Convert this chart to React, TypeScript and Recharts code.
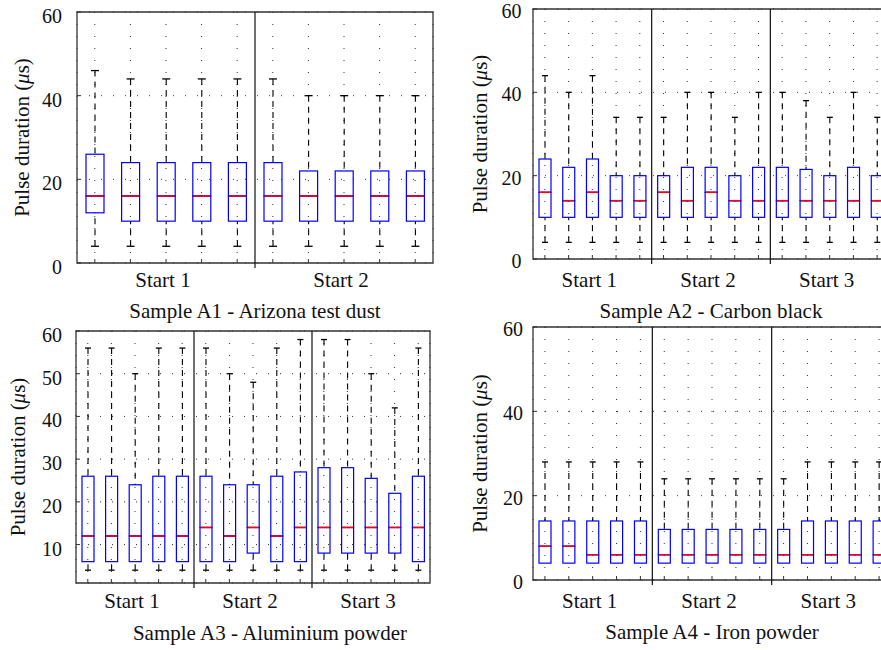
import React from 'react';
import { ComposedChart, Bar, XAxis, YAxis, CartesianGrid, ReferenceLine, ReferenceArea } from 'recharts';

const FONT = '"Liberation Serif", "Times New Roman", serif';
const GROUP = 5;
const PAD = 12;

// ---------- Sample A1 - Arizona test dust ----------
const a1Groups = ['Start 1', 'Start 2'];
const a1Max = [46, 44, 44, 44, 44, 44, 40, 40, 40, 40];
const a1Q3 = [26, 24, 24, 24, 24, 24, 22, 22, 22, 22];
const a1Med = [16, 16, 16, 16, 16, 16, 16, 16, 16, 16];
const a1Q1 = [12, 10, 10, 10, 10, 10, 10, 10, 10, 10];
const a1Min = [4, 4, 4, 4, 4, 4, 4, 4, 4, 4];

// ---------- Sample A2 - Carbon black ----------
const a2Groups = ['Start 1', 'Start 2', 'Start 3'];
const a2Max = [44, 40, 44, 34, 34, 34, 40, 40, 34, 40, 40, 38, 34, 40, 34];
const a2Q3 = [24, 22, 24, 20, 20, 20, 22, 22, 20, 22, 22, 21.5, 20, 22, 20];
const a2Med = [16, 14, 16, 14, 14, 16, 14, 16, 14, 14, 14, 14, 14, 14, 14];
const a2Q1 = [10, 10, 10, 10, 10, 10, 10, 10, 10, 10, 10, 10, 10, 10, 10];
const a2Min = [4, 4, 4, 4, 4, 4, 4, 4, 4, 4, 4, 4, 4, 4, 4];

// ---------- Sample A3 - Aluminium powder ----------
const a3Groups = ['Start 1', 'Start 2', 'Start 3'];
const a3Max = [56, 56, 50, 56, 56, 56, 50, 48, 56, 58, 58, 58, 50, 42, 56];
const a3Q3 = [26, 26, 24, 26, 26, 26, 24, 24, 26, 27, 28, 28, 25.5, 22, 26];
const a3Med = [12, 12, 12, 12, 12, 14, 12, 14, 12, 14, 14, 14, 14, 14, 14];
const a3Q1 = [6, 6, 6, 6, 6, 6, 6, 8, 6, 6, 8, 8, 8, 8, 6];
const a3Min = [4, 4, 4, 4, 4, 4, 4, 4, 4, 4, 4, 4, 4, 4, 4];

// ---------- Sample A4 - Iron powder ----------
const a4Groups = ['Start 1', 'Start 2', 'Start 3'];
const a4Max = [28, 28, 28, 28, 28, 24, 24, 24, 24, 24, 24, 28, 28, 28, 28];
const a4Q3 = [14, 14, 14, 14, 14, 12, 12, 12, 12, 12, 12, 14, 14, 14, 14];
const a4Med = [8, 8, 6, 6, 6, 6, 6, 6, 6, 6, 6, 6, 6, 6, 6];
const a4Q1 = [4, 4, 4, 4, 4, 4, 4, 4, 4, 4, 4, 4, 4, 4, 4];
const a4Min = [4, 4, 4, 4, 4, 4, 4, 4, 4, 4, 4, 4, 4, 4, 4];

const ticks0to60 = [0, 20, 40, 60];
const ticks10to60 = [10, 20, 30, 40, 50, 60];

function buildRows(min: number[], q1: number[], med: number[], q3: number[], max: number[]) {
  return min.map((m, i) => ({
    pos: i + 1,
    base: m,
    lw: q1[i] - m,
    lo: med[i] - q1[i],
    hi: q3[i] - med[i],
    uw: max[i] - q3[i],
  }));
}

const norm = (p: any) => {
  const y = Number(p.y) || 0;
  const h = Number(p.height) || 0;
  return { x: Number(p.x) || 0, w: Number(p.width) || 0, top: Math.min(y, y + h), h: Math.abs(h) };
};

const Empty = () => <g />;

const LowerWhisker = (p: any) => {
  const { x, w, top, h } = norm(p);
  if (h < 0.5) return <g />;
  const cx = x + w / 2;
  const c = p.cap / 2;
  return (
    <g>
      <line x1={cx} x2={cx} y1={top + h} y2={top} stroke="#000" strokeWidth={1.1} strokeDasharray="6 5" />
      <line x1={cx - c} x2={cx + c} y1={top + h} y2={top + h} stroke="#000" strokeWidth={1.3} />
    </g>
  );
};

const UpperWhisker = (p: any) => {
  const { x, w, top, h } = norm(p);
  if (h < 0.5) return <g />;
  const cx = x + w / 2;
  const c = p.cap / 2;
  return (
    <g>
      <line x1={cx} x2={cx} y1={top} y2={top + h} stroke="#000" strokeWidth={1.1} strokeDasharray="6 5" />
      <line x1={cx - c} x2={cx + c} y1={top} y2={top} stroke="#000" strokeWidth={1.3} />
    </g>
  );
};

const BoxLower = (p: any) => {
  const { x, w, top, h } = norm(p);
  return <rect x={x} y={top} width={w} height={h} fill="none" stroke="#0000ff" strokeWidth={1.2} />;
};

const BoxUpper = (p: any) => {
  const { x, w, top, h } = norm(p);
  return (
    <g>
      <rect x={x} y={top} width={w} height={h} fill="none" stroke="#0000ff" strokeWidth={1.2} />
      <line x1={x + 0.6} x2={x + w - 0.6} y1={top + h} y2={top + h} stroke="#ff0000" strokeWidth={1.5} />
    </g>
  );
};

type Cfg = {
  left: number; top: number; width: number; height: number;
  mTop: number; mRight: number; yAxisW: number; xAxisH: number;
  yMin: number; yMax: number; yTicks: number[];
  boxW: number; cap: number;
  yTickGap: number; yTickDy: number; xLabelDy: number;
  titleDy: number; titleShift: number; yTitleX: number;
  title: string; groups: string[]; rows: any[];
};

const tickText = { fontSize: 20, fill: '#111', style: { fontFamily: FONT } };
const labelText = { fontSize: 21, fill: '#111', style: { fontFamily: FONT } };

function Panel({ c }: { c: Cfg }) {
  const n = c.rows.length;
  const positions = c.rows.map((r) => r.pos);
  const width = c.width;
  const height = c.height + 2 * PAD;
  const mTop = c.mTop + PAD;
  const xAxisH = c.xAxisH + PAD;
  const plotLeft = c.yAxisW;
  const plotRight = width - c.mRight;
  const plotTop = mTop;
  const plotBottom = height - xAxisH;
  const pxPerUnit = (plotBottom - plotTop) / (c.yMax - c.yMin);
  const seps = c.groups.slice(1).map((_, i) => (i + 1) * GROUP + 0.5);
  const labelAt = new Map<number, string>(c.groups.map((g, i) => [i * GROUP + (GROUP + 1) / 2, g]));
  const domainX = [0.5, n + 0.5];

  const bottomTick = (p: any) => {
    const lbl = labelAt.get(p.payload.value);
    return (
      <g>
        <line x1={p.x} x2={p.x} y1={p.y} y2={p.y - 4} stroke="#333" />
        {lbl ? (
          <text x={p.x - 3} y={p.y + c.xLabelDy} textAnchor="middle" {...labelText}>
            {lbl}
          </text>
        ) : null}
      </g>
    );
  };
  const topTick = (p: any) => <line x1={p.x} x2={p.x} y1={p.y} y2={p.y + 4} stroke="#333" />;
  const leftTick = (p: any) => (
    <g>
      <line x1={p.x} x2={p.x + 4} y1={p.y} y2={p.y} stroke="#333" />
      <text x={p.x - c.yTickGap} y={p.y + c.yTickDy} textAnchor="end" dominantBaseline="central" {...tickText}>
        {p.payload.value}
      </text>
    </g>
  );
  const rightTick = (p: any) => <line x1={p.x} x2={p.x - 4} y1={p.y} y2={p.y} stroke="#333" />;

  const xTitle = () => (
    <text x={(plotLeft + plotRight) / 2 + c.titleShift} y={plotBottom + c.titleDy} textAnchor="middle" {...labelText}>
      {c.title}
    </text>
  );
  const yTitle = () => {
    const cy = (plotTop + plotBottom) / 2;
    return (
      <text
        x={c.yTitleX}
        y={cy}
        transform={`rotate(-90 ${c.yTitleX} ${cy})`}
        textAnchor="middle"
        dominantBaseline="central"
        {...labelText}
      >
        Pulse duration (<tspan fontStyle="italic">μ</tspan>s)
      </text>
    );
  };

  return (
    <div style={{ position: 'absolute', left: c.left, top: c.top - PAD }}>
      <ComposedChart
        width={width}
        height={height}
        data={c.rows}
        margin={{ top: mTop, right: c.mRight, bottom: 0, left: 0 }}
      >
        <CartesianGrid stroke="#333" strokeDasharray="1 11" />
        <XAxis
          dataKey="pos"
          type="number"
          domain={domainX}
          ticks={positions}
          interval={0}
          tickSize={0}
          tickMargin={0}
          tickLine={false}
          axisLine={false}
          height={xAxisH}
          tick={bottomTick}
          label={xTitle}
        />
        <XAxis
          xAxisId="top"
          orientation="top"
          dataKey="pos"
          type="number"
          domain={domainX}
          ticks={positions}
          interval={0}
          tickSize={0}
          tickMargin={0}
          tickLine={false}
          axisLine={false}
          height={0}
          tick={topTick}
        />
        <YAxis
          type="number"
          domain={[c.yMin, c.yMax]}
          allowDataOverflow
          ticks={c.yTicks}
          interval={0}
          tickSize={0}
          tickMargin={0}
          tickLine={false}
          axisLine={false}
          width={c.yAxisW}
          tick={leftTick}
          label={yTitle}
        />
        <YAxis
          yAxisId="r"
          orientation="right"
          type="number"
          domain={[c.yMin, c.yMax]}
          allowDataOverflow
          ticks={c.yTicks}
          interval={0}
          tickSize={0}
          tickMargin={0}
          tickLine={false}
          axisLine={false}
          width={0}
          tick={rightTick}
        />
        <Bar dataKey="base" stackId="s" barSize={c.boxW} isAnimationActive={false} shape={Empty} />
        <Bar dataKey="lw" stackId="s" barSize={c.boxW} isAnimationActive={false} shape={(p: any) => <LowerWhisker {...p} cap={c.cap} />} />
        <Bar dataKey="lo" stackId="s" barSize={c.boxW} isAnimationActive={false} shape={BoxLower} />
        <Bar dataKey="hi" stackId="s" barSize={c.boxW} isAnimationActive={false} shape={BoxUpper} />
        <Bar dataKey="uw" stackId="s" barSize={c.boxW} isAnimationActive={false} shape={(p: any) => <UpperWhisker {...p} cap={c.cap} />} />
        <ReferenceArea
          x1={domainX[0]}
          x2={domainX[1]}
          y1={c.yMin}
          y2={c.yMax}
          fill="none"
          fillOpacity={0}
          stroke="#333"
          strokeWidth={1.3}
          ifOverflow="visible"
        />
        {seps.map((s) => (
          <ReferenceLine
            key={s}
            segment={[
              { x: s, y: c.yMax },
              { x: s, y: c.yMin - 5 / pxPerUnit },
            ]}
            stroke="#111"
            strokeWidth={1.2}
            ifOverflow="visible"
          />
        ))}
      </ComposedChart>
    </div>
  );
}

const panels: Cfg[] = [
  {
    left: 0, top: 0, width: 440, height: 320,
    mTop: 12, mRight: 7, yAxisW: 77, xAxisH: 57,
    yMin: 0, yMax: 60, yTicks: ticks0to60,
    boxW: 18, cap: 8,
    yTickGap: 15, yTickDy: 4, xLabelDy: 24, titleDy: 55, titleShift: 0, yTitleX: 22,
    title: 'Sample A1 - Arizona test dust', groups: a1Groups,
    rows: buildRows(a1Min, a1Q1, a1Med, a1Q3, a1Max),
  },
  {
    left: 440, top: 0, width: 460, height: 320,
    mTop: 9, mRight: 11, yAxisW: 93, xAxisH: 61,
    yMin: 0, yMax: 60, yTicks: ticks0to60,
    boxW: 12, cap: 6,
    yTickGap: 11.5, yTickDy: 2, xLabelDy: 28, titleDy: 59, titleShift: 0, yTitleX: 40,
    title: 'Sample A2 - Carbon black', groups: a2Groups,
    rows: buildRows(a2Min, a2Q1, a2Med, a2Q3, a2Max),
  },
  {
    left: 0, top: 320, width: 440, height: 330,
    mTop: 11, mRight: 10, yAxisW: 76, xAxisH: 67,
    yMin: 1, yMax: 60, yTicks: ticks10to60,
    boxW: 12, cap: 6,
    yTickGap: 14, yTickDy: 4, xLabelDy: 25, titleDy: 57, titleShift: 17, yTitleX: 18,
    title: 'Sample A3 - Aluminium powder', groups: a3Groups,
    rows: buildRows(a3Min, a3Q1, a3Med, a3Q3, a3Max),
  },
  {
    left: 440, top: 320, width: 460, height: 330,
    mTop: 7, mRight: 9, yAxisW: 93, xAxisH: 70,
    yMin: 0, yMax: 60, yTicks: ticks0to60,
    boxW: 12, cap: 6,
    yTickGap: 10, yTickDy: 2, xLabelDy: 28, titleDy: 59, titleShift: 0, yTitleX: 40,
    title: 'Sample A4 - Iron powder', groups: a4Groups,
    rows: buildRows(a4Min, a4Q1, a4Med, a4Q3, a4Max),
  },
];

export default function App() {
  return (
    <div
      style={{
        position: 'absolute',
        left: 0,
        top: 0,
        width: 881,
        height: 650,
        overflow: 'hidden',
        background: '#fff',
      }}
    >
      {panels.map((c, i) => (
        <Panel key={i} c={c} />
      ))}
    </div>
  );
}
